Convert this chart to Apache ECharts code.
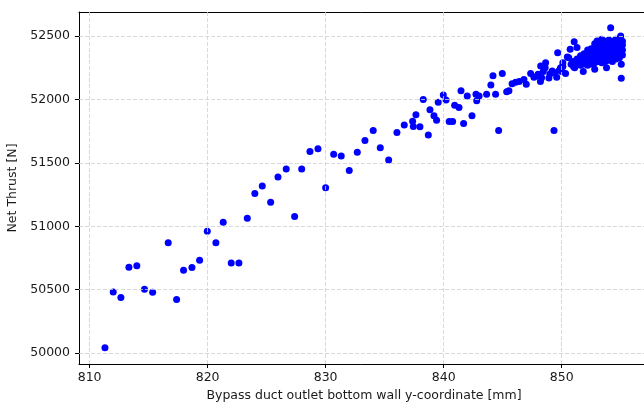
<!DOCTYPE html>
<html>
<head>
<meta charset="utf-8">
<script src="https://cdn.jsdelivr.net/npm/echarts@6/dist/echarts.min.js"></script>
<style>
html,body{margin:0;padding:0;background:#fff;}
#chart{width:644px;height:403px;}
</style>
</head>
<body>
<div id="chart"></div>
<script>
// Bypass duct outlet bottom wall y-coordinate [mm]
const xValues = [
  811.3, 812.0, 812.65, 813.33, 814.0, 814.65, 815.34, 816.66, 817.37, 817.96,
  818.67, 819.32, 819.97, 820.7, 821.32, 822.0, 822.65, 823.36, 824.0, 824.63,
  825.34, 825.96, 826.66, 827.37, 827.97, 828.67, 829.35, 830.0, 830.68, 831.32,
  832.0, 832.68, 833.33, 834.03, 834.63, 835.34, 836.04, 836.66, 837.37, 837.43,
  837.65, 837.99, 838.27, 838.7, 838.84, 839.18, 839.4, 839.54, 839.97, 840.2,
  840.47, 840.76, 840.93, 841.3, 841.47, 841.69, 842.0, 842.4, 842.74, 842.8,
  843.0, 843.64, 844.0, 844.18, 844.4, 844.66, 844.97, 845.34, 845.53, 845.8,
  846.1, 846.4, 846.8, 847.0, 847.37, 847.65, 847.93, 848.2, 848.22, 848.64,
  848.44, 848.92, 849.2, 849.35, 849.58, 849.66, 849.91, 850.33, 850.48, 850.72,
  851.06, 850.8, 851.1, 851.3, 851.83, 852.0, 852.2, 852.8, 853.0, 853.8,
  854.15, 855.0, 855.05, 855.05,
  848.0, 848.3, 848.6, 849.0, 849.4, 849.8, 850.1, 850.0, 850.1, 850.6,
  851.0, 851.0, 851.3, 851.3, 851.6, 851.6, 851.6, 851.9, 851.9, 851.9,
  852.2, 852.2, 852.2, 852.2, 852.5, 852.5, 852.5, 852.5,
  852.8, 852.8, 852.8, 852.8, 852.8, 853.1, 853.1, 853.1, 853.1, 853.1,
  853.4, 853.4, 853.4, 853.4, 853.4, 853.4, 853.7, 853.7, 853.7, 853.7, 853.7,
  854.0, 854.0, 854.0, 854.0, 854.0, 854.3, 854.3, 854.3, 854.3, 854.3,
  854.6, 854.6, 854.6, 854.6, 854.6, 854.9, 854.9, 854.9, 854.9,
  855.15, 855.15, 855.15, 855.15
];
// Net Thrust [N]
const yValues = [
  50042, 50482, 50438, 50676, 50689, 50503, 50480, 50870, 50422, 50652,
  50674, 50731, 50961, 50870, 51032, 50710, 50710, 51064, 51258, 51318,
  51190, 51389, 51452, 51077, 51452, 51590, 51612, 51303, 51567, 51554,
  51439, 51583, 51677, 51756, 51620, 51523, 51740, 51798, 51829, 51787,
  51879, 51785, 52000, 51720, 51918, 51871, 51837, 51978, 52036, 51995,
  51826, 51826, 51955, 51936, 52068, 51811, 52028, 51871, 52042, 51989,
  52028, 52042, 52115, 52188, 52042, 51756, 52204, 52060, 52068, 52125,
  52136, 52141, 52157, 52120, 52204, 52175, 52186, 52141, 52264, 52290,
  52220, 52170, 52225, 51756, 52175, 52369, 52251, 52204, 52335, 52396,
  52455, 52278, 52251, 52409, 52220, 52317, 52356, 52238, 52461, 52251,
  52565, 52500, 52278, 52168,
  52199, 52172, 52251, 52200, 52210, 52230, 52260, 52220, 52290, 52330,
  52260, 52300, 52280, 52320, 52270, 52310, 52345, 52280, 52320, 52360,
  52270, 52310, 52350, 52390, 52280, 52320, 52360, 52400,
  52290, 52330, 52370, 52410, 52440, 52300, 52340, 52380, 52420, 52455,
  52290, 52330, 52370, 52410, 52450, 52475, 52300, 52340, 52380, 52420, 52460,
  52310, 52350, 52390, 52430, 52470, 52300, 52340, 52380, 52420, 52460,
  52320, 52360, 52400, 52440, 52475, 52330, 52370, 52410, 52450,
  52350, 52390, 52430, 52460
];
const xTicks = [810, 820, 830, 840, 850];
const yTicks = [50000, 50500, 51000, 51500, 52000, 52500];
const xLabel = 'Bypass duct outlet bottom wall y-coordinate [mm]';
const yLabel = 'Net Thrust [N]';

const points = xValues.map((x, i) => [x, yValues[i]]);
const FONT = 'DejaVu Sans';
const gridStyle = { color: '#cfcfcf', type: [4, 2], width: 0.8 };
const plain = v => String(v);

const chart = echarts.init(document.getElementById('chart'), null, { renderer: 'canvas' });
chart.setOption({
  animation: false,
  backgroundColor: '#ffffff',
  grid: { left: 79, right: -5, top: 12, bottom: 39, containLabel: false, outerBoundsMode: 'none' },
  xAxis: [{
    type: 'value', min: 809.1, max: 857.4,
    name: xLabel, nameLocation: 'middle', nameGap: 24,
    nameTextStyle: { fontFamily: FONT, fontSize: 12.5, color: '#1a1a1a' },
    axisLine: { show: true, onZero: false, lineStyle: { color: '#000', width: 1 } },
    axisTick: { show: true, length: 4, customValues: xTicks, lineStyle: { color: '#000' } },
    axisLabel: { customValues: xTicks, formatter: plain, margin: 7, fontFamily: FONT, fontSize: 12.5, color: '#1a1a1a' },
    splitLine: { show: false }
  }, {
    type: 'value', position: 'top', min: 809.1, max: 857.4,
    axisLine: { show: true, onZero: false, lineStyle: { color: '#000', width: 1 } },
    axisTick: { show: false }, axisLabel: { show: false }, splitLine: { show: false }
  }],
  yAxis: {
    type: 'value', min: 49913.5, max: 52690,
    name: yLabel, nameLocation: 'middle', nameGap: 52,
    nameTextStyle: { fontFamily: FONT, fontSize: 12.5, color: '#1a1a1a' },
    axisLine: { show: true, onZero: false, lineStyle: { color: '#000', width: 1 } },
    axisTick: { show: true, length: 4, customValues: yTicks, lineStyle: { color: '#000' } },
    axisLabel: { customValues: yTicks, formatter: plain, margin: 9, fontFamily: FONT, fontSize: 12.5, color: '#1a1a1a' },
    splitLine: { show: false }
  },
  series: [{
    type: 'scatter',
    xAxisIndex: 0,
    data: points,
    symbol: 'circle',
    symbolSize: 7,
    itemStyle: { color: '#0000ff', opacity: 1 },
    silent: true,
    markLine: {
      silent: true,
      symbol: ['none', 'none'],
      label: { show: false },
      lineStyle: gridStyle,
      emphasis: { disabled: true },
      data: xTicks.map(v => ({ xAxis: v })).concat(yTicks.map(v => ({ yAxis: v })))
    }
  }]
});
</script>
</body>
</html>
